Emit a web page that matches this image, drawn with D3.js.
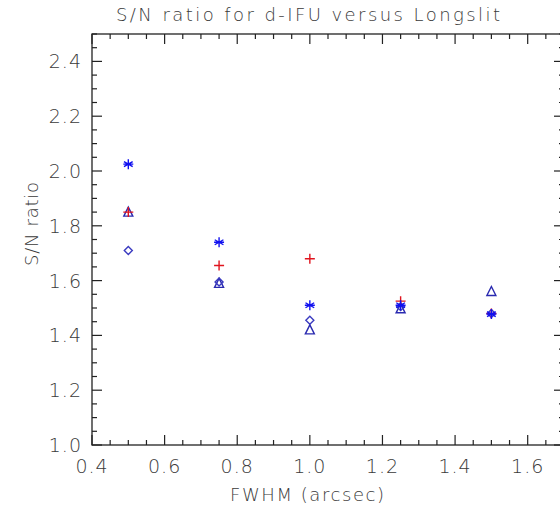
<!DOCTYPE html>
<html>
<head>
<meta charset="utf-8">
<script src="https://cdn.jsdelivr.net/npm/d3@7"></script>
<style>
  body { margin: 0; background: #fff; }
  text { font-family: "DejaVu Sans", sans-serif; fill: #3a3a3a; font-weight: 300; }
</style>
</head>
<body>
<div id="chart"></div>
<script>
// FWHM values (arcsec)
var fwhm = [0.5, 0.75, 1.0, 1.25, 1.5];
// S/N ratio series
var plusVals = [1.85, 1.655, 1.68, 1.525, 1.48];
var starVals = [2.025, 1.74, 1.51, 1.51, 1.478];
var diamondVals = [1.71, 1.595, 1.455, 1.505, 1.48];
var triangleVals = [1.85, 1.59, 1.42, 1.497, 1.56];
var xTicks = [0.4, 0.6, 0.8, 1.0, 1.2, 1.4, 1.6];
var yTicks = [1.0, 1.2, 1.4, 1.6, 1.8, 2.0, 2.2, 2.4];

var width = 560, height = 513;
var margin = {top: 34, left: 92, bottom: 68, right: -4};

var svg = d3.select("#chart").append("svg")
    .attr("width", width)
    .attr("height", height);

var x = d3.scaleLinear()
    .domain([0.4, 1.7])
    .range([margin.left, width - margin.right]);

var y = d3.scaleLinear()
    .domain([1.0, 2.5])
    .range([height - margin.bottom, margin.top]);

var minorX = d3.range(0.4, 1.7001, 0.05);
var minorY = d3.range(1.0, 2.5001, 0.05);

function isMajor(v) {
    return Math.abs(v * 5 - Math.round(v * 5)) < 1e-6;
}

var ink = "#222";

// frame
svg.append("rect")
    .attr("x", x(0.4))
    .attr("y", y(2.5))
    .attr("width", x(1.7) - x(0.4))
    .attr("height", y(1.0) - y(2.5))
    .attr("fill", "none")
    .attr("stroke", ink)
    .attr("stroke-width", 1.3);

// ticks (inward, all four sides)
var tickG = svg.append("g").attr("stroke", ink).attr("stroke-width", 1.2);
minorX.forEach(function (v) {
    var len = isMajor(v) ? 10 : 5;
    tickG.append("line").attr("x1", x(v)).attr("x2", x(v))
        .attr("y1", y(1.0)).attr("y2", y(1.0) - len);
    tickG.append("line").attr("x1", x(v)).attr("x2", x(v))
        .attr("y1", y(2.5)).attr("y2", y(2.5) + len);
});
minorY.forEach(function (v) {
    var len = isMajor(v) ? 10 : 5;
    tickG.append("line").attr("x1", x(0.4)).attr("x2", x(0.4) + len)
        .attr("y1", y(v)).attr("y2", y(v));
    tickG.append("line").attr("x1", x(1.7)).attr("x2", x(1.7) - len)
        .attr("y1", y(v)).attr("y2", y(v));
});

// tick labels
svg.append("g").selectAll("text")
    .data(xTicks)
    .enter().append("text")
    .attr("x", function (d) { return x(d); })
    .attr("y", y(1.0) + 28)
    .attr("text-anchor", "middle")
    .attr("font-size", "19px")
    .attr("letter-spacing", "1px")
    .text(function (d) { return d.toFixed(1); });

svg.append("g").selectAll("text")
    .data(yTicks)
    .enter().append("text")
    .attr("x", x(0.4) - 10)
    .attr("y", function (d) { return y(d) + 7; })
    .attr("text-anchor", "end")
    .attr("font-size", "19px")
    .attr("letter-spacing", "1px")
    .text(function (d) { return d.toFixed(1); });

// titles
svg.append("text")
    .attr("x", 308)
    .attr("y", 21)
    .attr("text-anchor", "middle")
    .attr("font-size", "18px")
    .attr("textLength", 384)
    .attr("lengthAdjust", "spacing")
    .text("S/N ratio for d-IFU versus Longslit");

svg.append("text")
    .attr("x", 307)
    .attr("y", 501)
    .attr("text-anchor", "middle")
    .attr("font-size", "18px")
    .attr("textLength", 154)
    .attr("lengthAdjust", "spacing")
    .text("FWHM (arcsec)");

svg.append("text")
    .attr("transform", "translate(38,224) rotate(-90)")
    .attr("text-anchor", "middle")
    .attr("font-size", "18px")
    .attr("textLength", 84)
    .attr("lengthAdjust", "spacing")
    .text("S/N ratio");

// marker shapes, relative to the point
function markerPath(kind) {
    var s = 5;
    if (kind == "plus") {
        return "M" + (-s) + ",0H" + s + "M0," + (-s) + "V" + s;
    } else if (kind == "star") {
        var a = s * 0.87, b = s * 0.5;
        return "M" + (-s) + ",0H" + s + "M0," + (-s) + "V" + s +
            "M" + (-a) + "," + (-b) + "L" + a + "," + b +
            "M" + (-a) + "," + b + "L" + a + "," + (-b);
    } else if (kind == "diamond") {
        return "M0,-4L4,0L0,4L-4,0Z";
    } else {
        return "M0,-5L4.5,4L-4.5,4Z";
    }
}

var series = [
    {kind: "triangle", vals: triangleVals, color: "#2a2ab0"},
    {kind: "diamond", vals: diamondVals, color: "#3a3ac0"},
    {kind: "plus", vals: plusVals, color: "#e0141e"},
    {kind: "star", vals: starVals, color: "#1010f0"}
];

series.forEach(function (s) {
    svg.append("g").selectAll("path")
        .data(s.vals)
        .enter().append("path")
        .attr("transform", function (d, i) {
            return "translate(" + x(fwhm[i]) + "," + y(d) + ")";
        })
        .attr("d", markerPath(s.kind))
        .attr("fill", "none")
        .attr("stroke", s.color)
        .attr("stroke-width", 1.4);
});
</script>
</body>
</html>
